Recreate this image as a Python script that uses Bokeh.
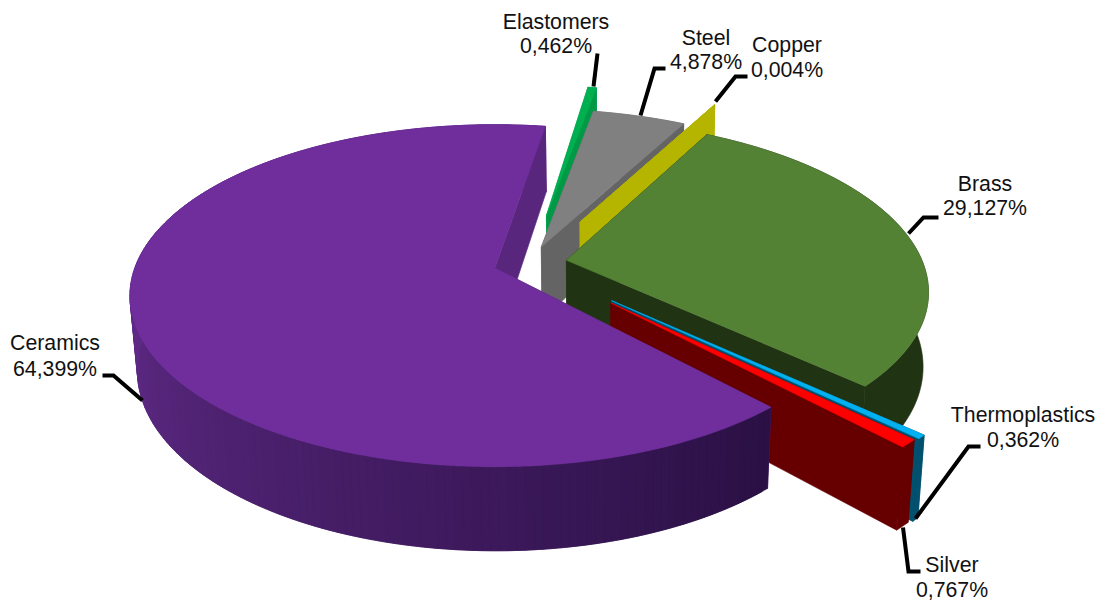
import math
from bokeh.plotting import figure
from bokeh.models import ColumnDataSource, Range1d
from bokeh.core.properties import value
from bokeh.embed import file_html
from bokeh.resources import INLINE

# ---- data ----
categories = ["Elastomers", "Steel", "Copper", "Brass", "Thermoplastics", "Silver", "Ceramics"]
shares = [0.462, 4.878, 0.004, 29.127, 0.362, 0.767, 64.399]

# ---- style ----
top_colors = ["#00b050", "#808080", "#b5b500", "#548235", "#00b0f0", "#ff0000", "#6f2e9c"]
wall_colors = ["#009a46", "#646464", "#b5b500", "#203413", "#00506e", "#660000", "#59267d"]
explode = [0.30, 0.099, 0.29, 0.093, 0.302, 0.31, 0.112]
explode_turn = [-2, -6, 0, 0, 3, 3, 0]
radius = [0.995, 0.995, 0.995, 0.99, 0.975, 0.962, 0.995]
first_angle = 9.3

# ---- projection of the pie plane ----
X0, Y0, F, G, K, M, H = 497.0, 268.0, 362.0, 167.5, 0.163, 0.016, 75.0
OU, OV = 0.1, 0.035
BOTTOM_SHIFT = 1.5


def top(u, v):
    w = 1 + K * v
    return X0 + F * u / w, Y0 - G * v / w


def bot(u, v):
    w = 1 + K * v + M
    return X0 + BOTTOM_SHIFT + F * u / w, Y0 - (G * v - H) / w


def mix(a, b, t):
    ca = [int(a[i:i + 2], 16) for i in (1, 3, 5)]
    cb = [int(b[i:i + 2], 16) for i in (1, 3, 5)]
    return "#%02x%02x%02x" % tuple(round(x + (y - x) * t) for x, y in zip(ca, cb))


xs, ys, cols = [], [], []


def add(points, color):
    xs.append([q[0] for q in points])
    ys.append([q[1] for q in points])
    cols.append(color)


total = sum(shares)
a = first_angle
for name, share, tc, wc, ex, turn, R in zip(categories, shares, top_colors, wall_colors, explode, explode_turn, radius):
    span = share / total * 360
    a0, a1 = a, a + span
    a = a1
    mid = math.radians((a0 + a1) / 2 + turn)
    cu, cv = OU + ex * math.sin(mid), OV + ex * math.cos(mid)
    n = max(2, int(span / 1.2) + 1)
    th = [math.radians(a0 + (a1 - a0) * i / (n - 1)) for i in range(n)]
    rim = [(cu + R * math.sin(t), cv + R * math.cos(t)) for t in th]
    # radial face at the start of the slice
    add([top(cu, cv), top(*rim[0]), bot(*rim[0]), bot(cu, cv)], wc)
    # rim wall
    if name == "Ceramics":
        for i in range(n - 1):
            deg = math.degrees(th[i])
            t = min(1.0, max(0.0, (deg - 137) / 125))
            j = min(i + 2, n - 1)
            add([top(*q) for q in rim[i:j + 1]] + [bot(*q) for q in reversed(rim[i:j + 1])],
                mix("#2a1044", "#5f2a86", t))
    else:
        add([top(*q) for q in rim] + [bot(*q) for q in reversed(rim)], wc)
    # radial face at the end of the slice
    add([top(cu, cv), top(*rim[-1]), bot(*rim[-1]), bot(cu, cv)], wc)
    # top surface
    add([top(cu, cv)] + [top(*q) for q in rim], tc)

# ---- labels and leaders (layout) ----
label_pos = {
    "Elastomers": (555.5, 21, 45),
    "Steel": (705.5, 37, 61),
    "Copper": (786.5, 44, 69),
    "Brass": (984.5, 183, 207),
    "Thermoplastics": (1022.5, 414, 439),
    "Silver": (951.5, 564, 589),
    "Ceramics": (54.5, 342, 368),
}
leaders = [
    ([597, 593], [53, 86]),
    ([665, 654, 640], [68, 68, 115]),
    ([747, 735, 715], [76, 76, 101]),
    ([938, 923, 908], [217, 217, 233]),
    ([980, 968, 915], [446, 446, 518]),
    ([902.5, 908, 920], [527, 571, 571]),
    ([102, 113, 142], [375, 375, 400]),
]

p = figure(width=1102, height=601, output_backend="svg", toolbar_location=None,
           x_range=Range1d(0, 1102), y_range=Range1d(601, 0),
           x_axis_type=None, y_axis_type=None, min_border=0)
p.grid.visible = False
p.outline_line_color = None
p.background_fill_color = "white"

p.patches(xs="xs", ys="ys", fill_color="c", line_color="c", line_width=0.6,
          source=ColumnDataSource(dict(xs=xs, ys=ys, c=cols)))
p.multi_line([l[0] for l in leaders], [l[1] for l in leaders], line_color="black",
             line_width=4, line_join="miter")

tx, ty, tt = [], [], []
for name, share in zip(categories, shares):
    x, y1, y2 = label_pos[name]
    tx += [x, x]
    ty += [y1, y2]
    tt += [name, f"{share:.3f}".replace(".", ",") + "%"]
p.text(tx, ty, text=tt, text_font=value("Liberation Sans"), text_font_size="21.3px",
       text_align="center", text_baseline="middle", text_color="#111111")

open("out.html", "w").write(file_html(p, INLINE))
